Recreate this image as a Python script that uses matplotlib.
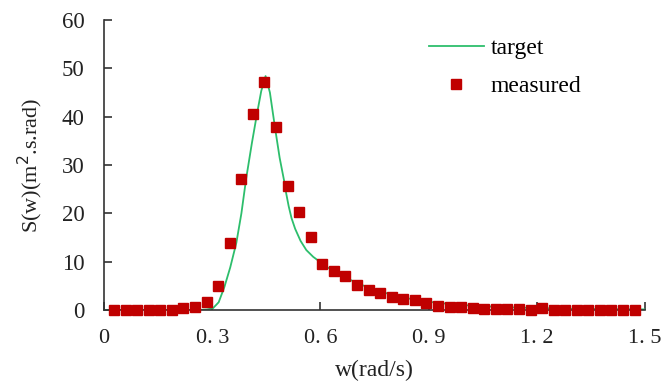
import matplotlib.pyplot as plt

# measured spectrum
w_meas = [0.028, 0.060, 0.092, 0.124, 0.156, 0.188, 0.220, 0.252, 0.285, 0.317,
          0.349, 0.381, 0.413, 0.445, 0.477, 0.509, 0.541, 0.573, 0.605, 0.637,
          0.669, 0.701, 0.734, 0.766, 0.798, 0.830, 0.862, 0.894, 0.926, 0.958,
          0.990, 1.022, 1.054, 1.086, 1.118, 1.150, 1.183, 1.215, 1.247, 1.279,
          1.311, 1.343, 1.375, 1.407, 1.439, 1.471]
s_meas = [0.05, 0.05, 0.05, 0.05, 0.05, 0.05, 0.35, 0.55, 1.6, 4.9,
          13.9, 27.1, 40.5, 47.1, 37.8, 25.7, 20.3, 15.0, 9.5, 8.0,
          7.0, 5.1, 4.1, 3.5, 2.7, 2.2, 2.0, 1.4, 0.9, 0.55,
          0.55, 0.35, 0.3, 0.3, 0.3, 0.3, 0.0, 0.4, 0.05, 0.05,
          0.05, 0.05, 0.05, 0.05, 0.05, 0.05]

# target spectrum
w_target = [0.0, 0.20, 0.265, 0.285, 0.302, 0.318, 0.334, 0.350, 0.367, 0.381,
            0.394, 0.410, 0.424, 0.436, 0.448, 0.460, 0.474, 0.487, 0.499, 0.505,
            0.512, 0.520, 0.530, 0.545, 0.561, 0.580, 0.598, 0.62, 0.65, 0.70,
            0.75, 0.80, 0.85, 0.90, 0.95, 1.00, 1.10, 1.20, 1.30, 1.40, 1.50]
s_target = [0.0, 0.0, 0.0, 0.1, 0.35, 1.6, 4.8, 8.8, 13.9, 20.0,
            27.1, 34.5, 40.5, 45.3, 48.4, 45.0, 37.8, 31.5, 26.9, 24.2,
            21.5, 19.0, 16.8, 14.3, 12.4, 11.0, 10.0, 8.8, 7.5, 5.6,
            4.2, 3.1, 2.3, 1.7, 1.3, 1.0, 0.6, 0.4, 0.25, 0.18, 0.12]

x_ticks = [0, 0.3, 0.6, 0.9, 1.2, 1.5]
x_ticklabels = ['0', '0. 3', '0. 6', '0. 9', '1. 2', '1. 5']
y_ticks = [0, 10, 20, 30, 40, 50, 60]

plt.rcParams['font.family'] = ['Liberation Serif', 'DejaVu Serif']

fig = plt.figure(figsize=(6.64, 3.83), dpi=100)
ax = fig.add_axes([0.1566, 0.1906, 0.9714 - 0.1566, 0.9478 - 0.1906])

ax.plot(w_target, s_target, color='#2dbe6c', lw=1.3, label='target', zorder=2)
ax.plot(w_meas, s_meas, ls='none', marker='s', ms=7.8, color='#c00000',
        markeredgecolor='#c00000', label='measured', clip_on=False, zorder=3)

ax.set_xlim(0, 1.5)
ax.set_ylim(0, 60)
ax.set_xticks(x_ticks)
ax.set_xticklabels(x_ticklabels)
ax.set_yticks(y_ticks)

for side in ['top', 'right']:
    ax.spines[side].set_visible(False)
for side in ['left', 'bottom']:
    ax.spines[side].set_color('#333333')
    ax.spines[side].set_linewidth(1.2)

ax.tick_params(axis='both', direction='in', length=6, width=1.2, color='#333333',
               labelcolor='#222222')
ax.tick_params(axis='x', pad=14, labelsize=16)
ax.tick_params(axis='y', pad=14, labelsize=16.5)

ax.set_xlabel('w(rad/s)', fontsize=17, color='#222222', labelpad=8)
ax.set_ylabel('S(w)(m$^2$.s.rad)', fontsize=16, color='#222222', labelpad=12)

ax.legend(loc='upper left', bbox_to_anchor=(0.562, 1.012), frameon=False,
          fontsize=17, handlelength=2.3, handletextpad=0.3, labelspacing=0.7,
          markerscale=0.85)

fig.savefig('out.png', dpi=100)
